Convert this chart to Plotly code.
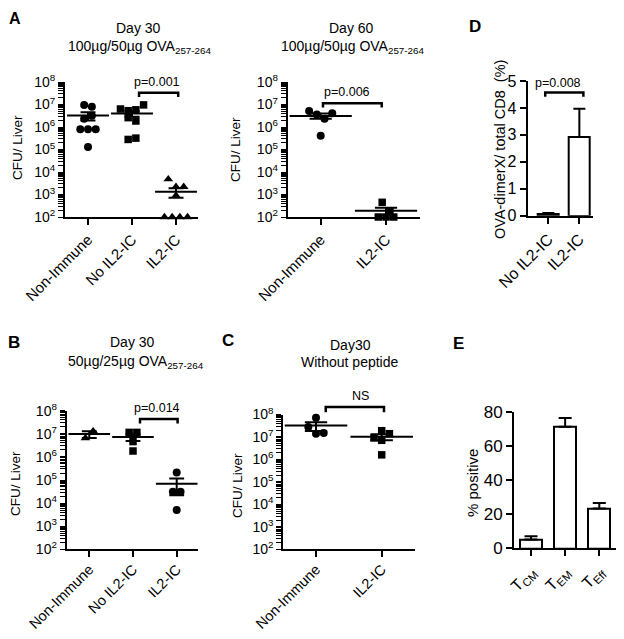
import numpy as np
import plotly.graph_objects as go

# the page body keeps its default 8px margin, so the figure is made 16px smaller
# and every position below (given in window pixels) is shifted by that margin
PAGE_W, PAGE_H, BODY = 624, 639, 8
W, H = PAGE_W - 2 * BODY, PAGE_H - 2 * BODY
FONT = "Arial, Liberation Sans, Helvetica, sans-serif"

# ---------------- data ----------------
cats_A30 = ["Non-Immune", "No IL2-IC", "IL2-IC"]
A30_nonimmune = [9.6e6, 8.0e6, 2.3e6, 3.2e6, 8.0e5, 8.0e5, 8.0e5, 1.3e5]
A30_noil2ic = [6.3e6, 5.3e6, 5.8e6, 9.6e6, 2.6e6, 1.85e6, 2.8e5, 3.2e5]
A30_il2ic = [4.8e3, 2.2e3, 2.2e3, 900, 100, 100, 100, 100]

cats_A60 = ["Non-Immune", "IL2-IC"]
A60_nonimmune = [5.2e6, 3.6e6, 2.3e6, 4.1e6, 4.1e5]
A60_il2ic = [450, 190, 100, 100, 100]

cats_B = ["Non-Immune", "No IL2-IC", "IL2-IC"]
B_nonimmune = [6.5e6, 1.3e7]
B_noil2ic = [1.15e7, 1.15e7, 4.6e6, 1.8e6]
B_il2ic = [2.1e5, 3.1e4, 3.1e4, 5.0e3]

cats_C = ["Non-Immune", "IL2-IC"]
C_nonimmune = [7.1e7, 2.8e7, 1.4e7, 1.5e7]
C_il2ic = [9.1e6, 1.9e7, 1.4e7, 7.1e6, 1.6e6]

cats_D = ["No IL2-IC", "IL2-IC"]
D_mean = [0.07, 2.92]
D_sem = [0.03, 1.05]

cats_E = ["T<sub>CM</sub>", "T<sub>EM</sub>", "T<sub>Eff</sub>"]
E_mean = [5.2, 71.2, 23.3]
E_sem = [1.8, 5.1, 3.2]

log_decades = list(range(2, 9))
log_tickvals = [10.0 ** e for e in log_decades]
log_ticktext = ["10<sup>%d</sup>" % e for e in log_decades]

p_A30, p_A60, p_B, p_C, p_D = "p=0.001", "p=0.006", "p=0.014", "NS", "p=0.008"


def sx(px):
    return (px - BODY) / W


def sy(py):
    return 1 - (py - BODY) / H


# ---------------- layout geometry (window pixels) ----------------
panels = {
    1: dict(xd=(65, 198), yd=(82, 217), xr=(-0.523, 2.5)),       # A day 30
    2: dict(xd=(287.7, 420), yd=(82, 217), xr=(-0.505, 1.52)),   # A day 60
    3: dict(xd=(66.7, 198), yd=(410.7, 549.3), xr=(-0.517, 2.487)),  # B
    4: dict(xd=(283.3, 415), yd=(414.5, 549.3), xr=(-0.498, 1.507)), # C
    5: dict(xd=(527.7, 593), yd=(81, 215.7), xr=(-0.665, 1.44)),  # D
    6: dict(xd=(514, 616), yd=(411.7, 548.3), xr=(-0.498, 2.489)),  # E
}
xfont = {1: 15, 2: 15, 3: 14.5, 4: 14.5, 5: 16, 6: 16}
xstand = {1: 0, 2: 0, 3: -2, 4: -2, 5: 0, 6: 0}


def ppc(n):
    p = panels[n]
    return (p["xd"][1] - p["xd"][0]) / (p["xr"][1] - p["xr"][0])


def ppd(n):
    p = panels[n]
    return (p["yd"][1] - p["yd"][0]) / 6.0


def swarm(vals, px_dec, thr=8.5, spacing=7.7):
    v = np.asarray(vals, float)
    yy = np.log10(v) * px_dec
    order = np.argsort(-yy, kind="stable")
    rows = []
    for i in order:
        if rows and yy[rows[-1][0]] - yy[i] < thr:
            rows[-1].append(i)
        else:
            rows.append([i])
    off = np.zeros(len(v))
    for r in rows:
        r = sorted(r)
        n = len(r)
        for k, i in enumerate(r):
            off[i] = (k - (n - 1) / 2) * spacing
    return off


fig = go.Figure()

scatter_groups = [
    (1, [(A30_nonimmune, "circle"), (A30_noil2ic, "square"), (A30_il2ic, "triangle-up")]),
    (2, [(A60_nonimmune, "circle"), (A60_il2ic, "square")]),
    (3, [(B_nonimmune, "triangle-up"), (B_noil2ic, "square"), (B_il2ic, "circle")]),
    (4, [(C_nonimmune, "circle"), (C_il2ic, "square")]),
]

for n, groups in scatter_groups:
    xa = "x" if n == 1 else "x%d" % n
    ya = "y" if n == 1 else "y%d" % n
    pc, pd_ = ppc(n), ppd(n)
    for ci, (vals, sym) in enumerate(groups):
        off = swarm(vals, pd_)
        msize = 8 if sym == "circle" else (7.5 if sym == "square" else 8.5)
        fig.add_trace(go.Scatter(
            x=ci + off / pc, y=vals, mode="markers", xaxis=xa, yaxis=ya,
            marker=dict(symbol=sym, size=msize, color="black", line=dict(width=0)),
            cliponaxis=False, hoverinfo="skip"))
        arr = np.asarray(vals, float)
        m = arr.mean()
        sem = arr.std(ddof=1) / np.sqrt(len(arr))
        fig.add_trace(go.Scatter(
            x=[ci], y=[m], mode="markers", xaxis=xa, yaxis=ya,
            marker=dict(symbol="line-ew", size=0.68 * pc, color="black",
                        line=dict(width=2, color="black")),
            error_y=dict(type="data", symmetric=False, array=[sem], arrayminus=[sem],
                         color="black", thickness=2, width=0.17 * pc),
            cliponaxis=False, hoverinfo="skip"))

# bars D
fig.add_trace(go.Bar(
    x=list(range(len(cats_D))), y=D_mean, width=0.68, xaxis="x5", yaxis="y5",
    marker=dict(color="white", line=dict(color="black", width=2)),
    error_y=dict(type="data", symmetric=False, array=D_sem, arrayminus=[0] * len(D_sem),
                 color="black", thickness=2, width=6),
    hoverinfo="skip"))
# bars E
fig.add_trace(go.Bar(
    x=list(range(len(cats_E))), y=E_mean, width=0.65, xaxis="x6", yaxis="y6",
    marker=dict(color="white", line=dict(color="black", width=2)),
    error_y=dict(type="data", symmetric=False, array=E_sem, arrayminus=[0] * len(E_sem),
                 color="black", thickness=2, width=6.5),
    hoverinfo="skip"))

axis_common = dict(showline=True, linecolor="black", linewidth=2, showgrid=False,
                   zeroline=False, ticks="outside", tickcolor="black", tickwidth=1.5,
                   color="black", automargin=False)

cats_all = {1: cats_A30, 2: cats_A60, 3: cats_B, 4: cats_C, 5: cats_D, 6: cats_E}

# log axis: every 1..9 x 10^n gets a tick; only decades are labelled
all_log_ticks = [m * 10.0 ** e for e in range(2, 8) for m in range(1, 10)] + [1e8]
all_log_text = [("10<sup>%d</sup>" % round(np.log10(v))) if v in log_tickvals else ""
                for v in all_log_ticks]

lay = {}
for n, p in panels.items():
    xk = "xaxis" if n == 1 else "xaxis%d" % n
    yk = "yaxis" if n == 1 else "yaxis%d" % n
    xa = "x" if n == 1 else "x%d" % n
    ya = "y" if n == 1 else "y%d" % n
    lay[xk] = dict(axis_common, domain=[sx(p["xd"][0]), min(1.0, sx(p["xd"][1]))],
                   range=list(p["xr"]),
                   anchor=ya, tickmode="array", tickvals=list(range(len(cats_all[n]))),
                   ticktext=cats_all[n], tickangle=-45, ticklen=6,
                   ticklabeloverflow="allow", ticklabelstandoff=xstand[n],
                   tickfont=dict(size=xfont[n], family=FONT, color="black"))
    yd = [sy(p["yd"][1]), sy(p["yd"][0])]
    if n <= 4:
        lay[yk] = dict(axis_common, domain=yd, type="log", range=[2, 8], anchor=xa,
                       tickmode="array", tickvals=all_log_ticks, ticktext=all_log_text,
                       ticklen=5, tickwidth=1.2, ticklabeloverflow="allow",
                       tickfont=dict(size=14, family=FONT, color="black"))
    elif n == 5:
        lay[yk] = dict(axis_common, domain=yd, range=[0, 5], anchor=xa, dtick=1, ticklen=6,
                       ticklabeloverflow="allow",
                       tickfont=dict(size=16, family=FONT, color="black"))
    else:
        lay[yk] = dict(axis_common, domain=yd, range=[0, 80], anchor=xa, dtick=20, ticklen=6,
                       ticklabeloverflow="allow",
                       tickfont=dict(size=17, family=FONT, color="black"))

# brackets: (panel, x0, x1, ytop, ydrop, text, text_x, text_y) ; log panels use log10 units
brackets = [
    (1, 1.16, 2.05, 7.52, 7.33, p_A30, 1.56, 8.0),
    (2, 0.035, 0.934, 7.05, 6.87, p_A60, 0.40, 7.56),
    (3, 1.16, 2.02, 7.64, 7.45, p_B, 1.54, 8.12),
    (4, 0.148, 1.035, 8.33, 8.10, p_C, 0.67, 8.83),
    (5, -0.10, 1.13, 4.57, 4.42, p_D, 0.31, 4.94),
]
shapes = []
annotations = []
for n, x0, x1, yt, ydr, txt, tx, ty in brackets:
    xa = "x" if n == 1 else "x%d" % n
    ya = "y" if n == 1 else "y%d" % n
    conv = (lambda v: (v - 2) / 6.0) if n <= 4 else (lambda v: v / 5.0)
    a, b = conv(yt), conv(ydr)
    shapes.append(dict(type="path", xref=xa, yref=ya + " domain",
                       path="M %f,%f L %f,%f L %f,%f L %f,%f" % (x0, b, x0, a, x1, a, x1, b),
                       line=dict(color="black", width=2.5)))
    annotations.append(dict(xref=xa, yref=ya + " domain", x=tx, y=conv(ty), text=txt,
                            showarrow=False, xanchor="center", yanchor="middle",
                            font=dict(size=12.5, family=FONT, color="black")))


def pann(px, py, text, size=14, bold=False, angle=0, yanchor="middle"):
    annotations.append(dict(xref="paper", yref="paper", x=sx(px), y=min(1.0, sy(py)),
                            text=("<b>%s</b>" % text) if bold else text, showarrow=False,
                            xanchor="center", yanchor=yanchor, textangle=angle,
                            font=dict(size=size, family=FONT, color="black")))


# panel letters
pann(15, 8, "A", size=16, bold=True, yanchor="top")
for L, (px, py) in {"D": (475, 27), "B": (14, 342), "C": (228, 340), "E": (458, 343)}.items():
    pann(px, py, L, size=17, bold=True)

ova = "100µg/50µg OVA<sub>257-264</sub>"
pann(138, 28, "Day 30")
pann(139, 47, ova)
pann(351, 28, "Day 60")
pann(352, 47, ova)
pann(133, 342, "Day 30")
pann(136, 362, "50µg/25µg OVA<sub>257-264</sub>")
pann(350, 345, "Day30")
pann(349, 362, "Without peptide")

# axis titles
pann(17, 148, "CFU/ Liver", size=13.5, angle=-90)
pann(236, 150, "CFU/ Liver", size=13.5, angle=-90)
pann(15, 484, "CFU/ Liver", size=13.5, angle=-90)
pann(237, 486, "CFU/ Liver", size=13.5, angle=-90)
pann(500, 150, "OVA-dimerX/ total CD8\u00a0 (%)", size=14.5, angle=-90)
pann(472, 483, "% positive", size=15, angle=-90)

fig.update_layout(template="none", width=W, height=H,
                  margin=dict(l=0, r=0, t=0, b=0, pad=0, autoexpand=False),
                  paper_bgcolor="white", plot_bgcolor="white", showlegend=False,
                  font=dict(family=FONT, color="black"), bargap=0,
                  shapes=shapes, annotations=annotations, **lay)

fig.write_html("out.html")
